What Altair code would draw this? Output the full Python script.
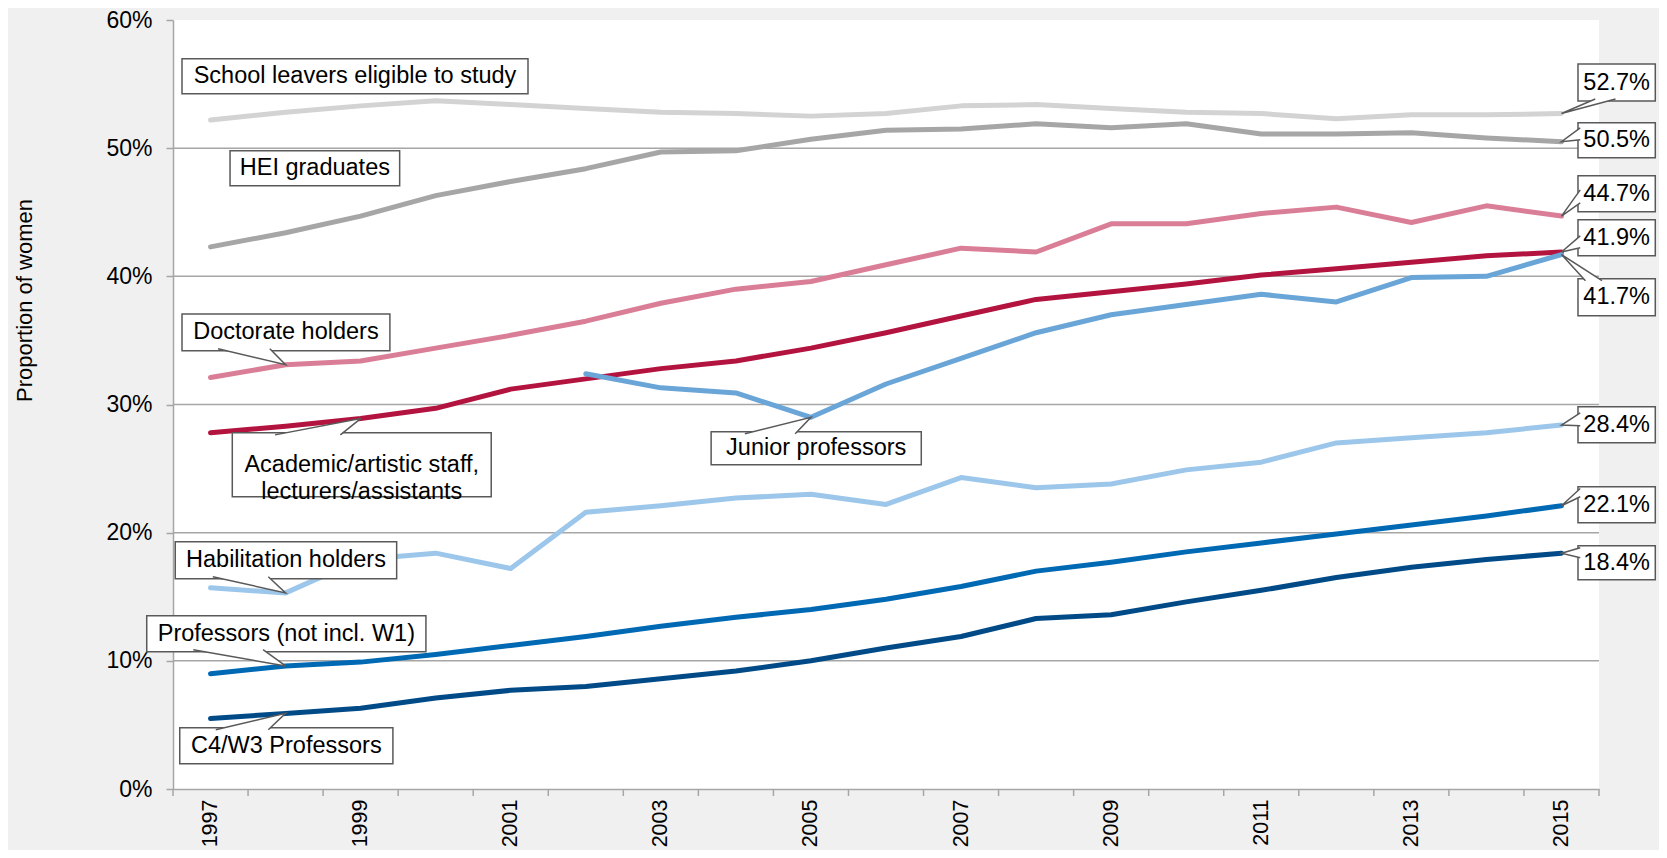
import altair as alt
import pandas as pd

# ---------------- data ----------------
years = list(range(1997, 2016))
series_names = [
    "School leavers eligible to study",
    "HEI graduates",
    "Doctorate holders",
    "Academic/artistic staff, lecturers/assistants",
    "Junior professors",
    "Habilitation holders",
    "Professors (not incl. W1)",
    "C4/W3 Professors",
]
school_leavers = [52.2, 52.8, 53.3, 53.7, 53.4, 53.1, 52.8, 52.7, 52.5, 52.7, 53.3, 53.4, 53.1, 52.8, 52.7, 52.3, 52.6, 52.6, 52.7]
hei_graduates = [42.3, 43.4, 44.7, 46.3, 47.4, 48.4, 49.7, 49.8, 50.7, 51.4, 51.5, 51.9, 51.6, 51.9, 51.1, 51.1, 51.2, 50.8, 50.5]
doctorate = [32.1, 33.1, 33.4, 34.4, 35.4, 36.5, 37.9, 39.0, 39.6, 40.9, 42.2, 41.9, 44.1, 44.1, 44.9, 45.4, 44.2, 45.5, 44.7]
academic = [27.8, 28.3, 28.9, 29.7, 31.2, 32.0, 32.8, 33.4, 34.4, 35.6, 36.9, 38.2, 38.8, 39.4, 40.1, 40.6, 41.1, 41.6, 41.9]
junior = [None, None, None, None, None, 32.4, 31.3, 30.9, 29.0, 31.6, 33.6, 35.6, 37.0, 37.8, 38.6, 38.0, 39.9, 40.0, 41.7]
habilitation = [15.7, 15.3, 17.9, 18.4, 17.2, 21.6, 22.1, 22.7, 23.0, 22.2, 24.3, 23.5, 23.8, 24.9, 25.5, 27.0, 27.4, 27.8, 28.4]
professors = [9.0, 9.6, 9.9, 10.5, 11.2, 11.9, 12.7, 13.4, 14.0, 14.8, 15.8, 17.0, 17.7, 18.5, 19.2, 19.9, 20.6, 21.3, 22.1]
c4w3 = [5.5, 5.9, 6.3, 7.1, 7.7, 8.0, 8.6, 9.2, 10.0, 11.0, 11.9, 13.3, 13.6, 14.6, 15.5, 16.5, 17.3, 17.9, 18.4]
series_values = [school_leavers, hei_graduates, doctorate, academic, junior, habilitation, professors, c4w3]
series_colors = ["#d3d3d3", "#a6a6a6", "#d97e96", "#b3133f", "#6aa5d8", "#9dc7ea", "#0069b4", "#004b87"]

y_ticks = [0, 10, 20, 30, 40, 50, 60]
grid_values = [10, 20, 30, 40, 50]
x_label_years = [1997, 1999, 2001, 2003, 2005, 2007, 2009, 2011, 2013, 2015]

# ---------------- annotations (positions in data units) ----------------
# (text, x1, x2, y_top, y_bottom)
left_boxes = [
    ("School leavers eligible to study", 1996.62, 2001.23, 56.97, 54.24),
    ("HEI graduates", 1997.26, 1999.52, 49.79, 47.06),
    ("Doctorate holders", 1996.62, 1999.39, 37.07, 34.19),
    ("Academic/artistic staff,\nlecturers/assistants", 1997.29, 2000.74, 27.79, 22.80),
    ("Junior professors", 2003.67, 2006.47, 27.87, 25.30),
    ("Habilitation holders", 1996.53, 1999.48, 19.29, 16.40),
    ("Professors (not incl. W1)", 1996.15, 1999.87, 13.52, 10.71),
    ("C4/W3 Professors", 1996.59, 1999.43, 4.78, 1.97),
]
RX1, RX2 = 2015.22, 2016.25
right_boxes = [
    ("52.7%", RX1, RX2, 56.56, 53.68),
    ("50.5%", RX1, RX2, 51.98, 49.25),
    ("44.7%", RX1, RX2, 47.84, 45.03),
    ("41.9%", RX1, RX2, 44.41, 41.60),
    ("41.7%", RX1, RX2, 39.82, 36.93),
    ("28.4%", RX1, RX2, 29.82, 27.01),
    ("22.1%", RX1, RX2, 23.58, 20.77),
    ("18.4%", RX1, RX2, 18.98, 16.33),
]
LB = RX1 + 0.03
# wedge pointers: (base1, tip, base2)
wedges = [
    ((1997.10, 34.35), (1998, doctorate[1]), (1997.79, 34.35)),
    ((1997.86, 27.63), (1999, academic[2]), (1998.73, 27.63)),
    ((2004.12, 27.71), (2005, junior[8]), (2004.79, 27.71)),
    ((1997.03, 16.56), (1998, habilitation[1]), (1997.77, 16.56)),
    ((1996.77, 10.87), (1998, professors[1]), (1997.70, 10.87)),
    ((1997.07, 4.62), (1998, c4w3[1]), (1997.77, 4.62)),
    ((2015.45, 53.84), (2015, school_leavers[-1]), (2015.72, 53.84)),
    ((LB, 51.58), (2015, hei_graduates[-1]), (LB, 50.65)),
    ((LB, 46.75), (2015, doctorate[-1]), (LB, 45.74)),
    ((LB, 43.16), (2015, academic[-1]), (LB, 42.23)),
    ((2015.32, 39.66), (2015, junior[-1]), (2015.54, 39.66)),
    ((LB, 29.35), (2015, habilitation[-1]), (LB, 28.34)),
    ((LB, 23.45), (2015, professors[-1]), (LB, 22.80)),
    ((LB, 18.82), (2015, c4w3[-1]), (LB, 18.04)),
]

# ---------------- tables ----------------
rows = []
for name, vals in zip(series_names, series_values):
    for yr, v in zip(years, vals):
        if v is not None:
            rows.append({"year": yr, "value": v, "series": name})
lines_df = pd.DataFrame(rows)

box_rows = []
for text, x1, x2, yt, yb in left_boxes + right_boxes:
    box_rows.append({"text": text, "year": x1, "year2": x2, "value": yt, "value2": yb,
                     "cx": (x1 + x2) / 2, "cy": (yt + yb) / 2})
boxes_df = pd.DataFrame(box_rows)

wedge_rows = []
for i, pts in enumerate(wedges):
    for k, (px, py) in enumerate(pts):
        wedge_rows.append({"wid": i, "ord": k, "year": px, "value": py})
wedges_df = pd.DataFrame(wedge_rows)

grid_df = pd.DataFrame({"value": grid_values})
tick_df = pd.DataFrame({"year": [y - 0.5 for y in years] + [years[-1] + 0.5]})

W, H = 1426, 769
FONT = "Liberation Sans"
GRAY = "#a6a6a6"
BORDER = "#595959"

x_scale = alt.Scale(domain=[1996.5, 2015.5], nice=False, zero=False)
y_scale = alt.Scale(domain=[0, 60], nice=False)

x_enc = alt.X("year:Q", scale=x_scale,
              axis=alt.Axis(values=x_label_years, format="d", labelAngle=270, ticks=False, tickSize=0,
                            grid=False, labelFontSize=21.5, labelPadding=10, labelColor="#000",
                            labelFont=FONT, domainColor=GRAY, domainWidth=1.5, title=None))
y_enc = alt.Y("value:Q", scale=y_scale,
              axis=alt.Axis(values=y_ticks, labelExpr="datum.value + '%'", grid=False,
                            tickSize=7, tickColor=GRAY, tickWidth=1.5, domainColor=GRAY, domainWidth=1.5,
                            labelFontSize=23, labelPadding=14, labelColor="#000", labelFont=FONT,
                            title="Proportion of women", titleFontSize=22, titleFontWeight="normal",
                            titleFont=FONT, titleColor="#000", titleAngle=270, titleX=-149, titleY=280,
                            titleAlign="center", titleBaseline="middle"))

grid = alt.Chart(grid_df).mark_rule(color=GRAY, strokeWidth=1.5).encode(
    y=alt.Y("value:Q", scale=y_scale), x=alt.value(0), x2=alt.value(W))

ticks = alt.Chart(tick_df).mark_rule(color=GRAY, strokeWidth=1.5).encode(
    x=alt.X("year:Q", scale=x_scale), y=alt.value(H), y2=alt.value(H + 7))

lines = alt.Chart(lines_df).mark_line(strokeWidth=5, strokeJoin="round", strokeCap="round").encode(
    x=x_enc, y=y_enc,
    color=alt.Color("series:N", scale=alt.Scale(domain=series_names, range=series_colors), legend=None),
    order=alt.Order("year:Q"))

boxes = alt.Chart(boxes_df).mark_rect(fill="white", stroke=BORDER, strokeWidth=1.5).encode(
    x=alt.X("year:Q", scale=x_scale), x2="year2:Q",
    y=alt.Y("value:Q", scale=y_scale), y2="value2:Q")

pointers = alt.Chart(wedges_df).mark_line(fill="white", stroke=BORDER, strokeWidth=1.5, strokeJoin="miter").encode(
    x=alt.X("year:Q", scale=x_scale), y=alt.Y("value:Q", scale=y_scale),
    detail="wid:N", order=alt.Order("ord:Q"))

texts = alt.Chart(boxes_df).mark_text(font=FONT, fontSize=23.5, color="#000", lineBreak="\n",
                                      lineHeight=27, align="center", baseline="middle").encode(
    x=alt.X("cx:Q", scale=x_scale), y=alt.Y("cy:Q", scale=y_scale), text="text:N")

chart = alt.layer(grid, ticks, lines, boxes, pointers, texts).properties(
    width=W, height=H,
    autosize=alt.AutoSizeParams(type="none"),
    padding={"left": 165, "top": 12, "right": 60, "bottom": 61},
    background="#f0f0f0",
).configure_view(fill="white", stroke=None)

chart.save("out.html", embed_options={"renderer": "svg", "actions": False})
